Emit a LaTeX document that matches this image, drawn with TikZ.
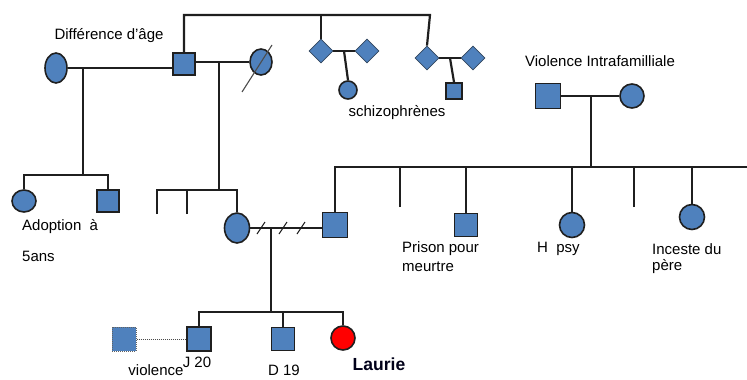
\documentclass[tikz,border=0pt]{standalone}
\usepackage{fontspec}
\setmainfont{Liberation Sans}
\usetikzlibrary{shapes.geometric,calc}
\definecolor{pedblue}{HTML}{4F81BD}
\definecolor{pedline}{HTML}{1F1F1F}
\tikzset{
  ln/.style={draw=pedline, line width=2.2pt},
  male/.style={rectangle, draw=pedline, line width=1.8pt, fill=pedblue, minimum size=#1, inner sep=0pt},
  male/.default=23pt,
  fem/.style={ellipse, draw=pedline, line width=1.6pt, fill=pedblue, inner sep=0pt},
  dia/.style={diamond, draw=pedline!60!pedblue, line width=0.8pt, fill=pedblue, minimum size=24pt, inner sep=0pt},
  lbl/.style={font=\fontsize{15}{17}\selectfont, inner sep=0pt, text=black},
}
\begin{document}
\begin{tikzpicture}[x=1pt, y=-1pt]
\useasboundingbox (0,0) rectangle (747,380);
% grandparents (left)
\node[fem, minimum width=22pt, minimum height=30pt] (gmL) at (56,68) {};
\node[male=22pt] (gf) at (184,64) {};
\node[fem, minimum width=22pt, minimum height=26pt] (gmR) at (261,62) {};
\node[lbl] (tdiff) at (109,36) {Différence d'âge};
% siblings of gf
\node[dia] (d1) at (321,51) {};
\node[dia] (d2) at (367,51) {};
\node[fem, minimum size=18pt] (sc1) at (348,90) {};
\node[dia] (d3) at (427,58) {};
\node[dia] (d4) at (473,58) {};
\node[male=16pt] (sc2) at (454,91) {};
\node[lbl] (tschizo) at (397,113) {schizophrènes};
% children of gmL
\node[fem, minimum width=24pt, minimum height=22pt] (lc1) at (24,201) {};
\node[male=22pt] (ls1) at (108,201) {};
\node[lbl, anchor=west] (tadop) at (22,227) {Adoption\ \ à};
\node[lbl, anchor=west] (t5ans) at (22,256) {5ans};
% parents
\node[fem, minimum width=25pt, minimum height=30pt] (mo) at (237,228) {};
\node[male=25pt] (fa) at (335,225) {};
% paternal grandparents
\node[male=25pt] (vgf) at (548,96) {};
\node[fem, minimum size=24pt] (vgm) at (632,96) {};
\node[lbl] (tviol) at (600,61) {Violence Intrafamilliale};
% father's siblings
\node[male=23pt] (s1) at (466,225) {};
\node[fem, minimum size=25pt] (s2) at (572,225) {};
\node[fem, minimum size=25pt] (s3) at (692,217) {};
\node[lbl, anchor=west] (tpr1) at (402,249) {Prison pour};
\node[lbl, anchor=west] (tpr2) at (402,267) {meurtre};
\node[lbl, anchor=west] (thpsy) at (537,249) {H\ \ psy};
\node[lbl, anchor=west] (tinc1) at (652,249) {Inceste du};
\node[lbl, anchor=west] (tinc2) at (652,267) {père};
% children
\node[male=24pt, draw=pedline!70, line width=1pt, densely dotted] (dq) at (124,339) {};
\node[male=24pt] (jj) at (199,339) {};
\node[male=23pt] (dd) at (283,339) {};
\node[circle, draw=pedline, line width=1.6pt, fill=red, minimum size=24pt, inner sep=0pt] (la) at (343,338) {};
\node[lbl] (tj) at (197,362) {J 20};
\node[lbl] (td) at (284,370) {D 19};
\node[lbl] (tv) at (156,370) {violence};
\node[font=\fontsize{17.5}{19}\selectfont\bfseries, inner sep=0pt, text=black!90!blue] (tla) at (379,364) {Laurie};
% coordinates
\coordinate (jL) at (83,68);
\coordinate (jLb) at (83,175);
\coordinate (jR) at (219,62);
\coordinate (jRb) at (219,190);
\coordinate (st1) at (157,214);
\coordinate (st2) at (187,214);
\coordinate (top) at (430,15);
\coordinate (jP) at (271,228);
\coordinate (jPb) at (271,312);
\coordinate (jV) at (591,96);
\coordinate (jVb) at (591,167);
\coordinate (bend) at (747,167);
\coordinate (st3) at (400,207);
\coordinate (st4) at (634,207);
% connectors
\draw[ln] (gmL.east) -- (gmL.east -| gf.west);
\draw[ln] (jL) -- (jLb);
\draw[ln] (lc1.north) |- (jLb) -| (ls1.north);
\draw[ln] (gf.north) |- (top) -- (d3.north);
\draw[ln] (d1.north) -- (d1.north |- top);
\draw[ln] (d1.east) -- (d2.west);
\draw[ln] ($(d1.east)!0.5!(d2.west)$) -- (sc1.north);
\draw[ln] (d3.east) -- (d4.west);
\draw[ln] ($(d3.east)!0.5!(d4.west)$) -- (sc2.north);
\draw[ln] (gmR.west) -- (gmR.west -| gf.east);
\draw[draw=pedline!80, line width=1.1pt] (242,92) -- (272,45);
\draw[ln] (jR) -- (jRb);
\draw[ln] (st1) |- (jRb) -| (mo.north);
\draw[ln] (st2) -- (st2 |- jRb);
\draw[ln] (mo.east) -- (mo.east -| fa.west);
\foreach \sx in {261,283,301} \draw[draw=pedline, line width=1.1pt] (\sx-4,234) -- (\sx+4,222);
\draw[ln] (jP) -- (jPb);
\draw[ln] (jj.north) |- (jPb) -| (la.north);
\draw[ln] (dd.north) -- (dd.north |- jPb);
\draw[draw=pedline!80, line width=1pt, densely dotted] (dq.east) -- (jj.west);
\draw[ln] (vgf.east) -- (vgf.east -| vgm.west);
\draw[ln] (jV) -- (jVb);
\draw[ln] (fa.north) |- (bend);
\draw[ln] (s1.north) -- (s1.north |- bend);
\draw[ln] (s2.north) -- (s2.north |- bend);
\draw[ln] (s3.north) -- (s3.north |- bend);
\draw[ln] (st3) -- (st3 |- bend);
\draw[ln] (st4) -- (st4 |- bend);
\end{tikzpicture}
\end{document}
